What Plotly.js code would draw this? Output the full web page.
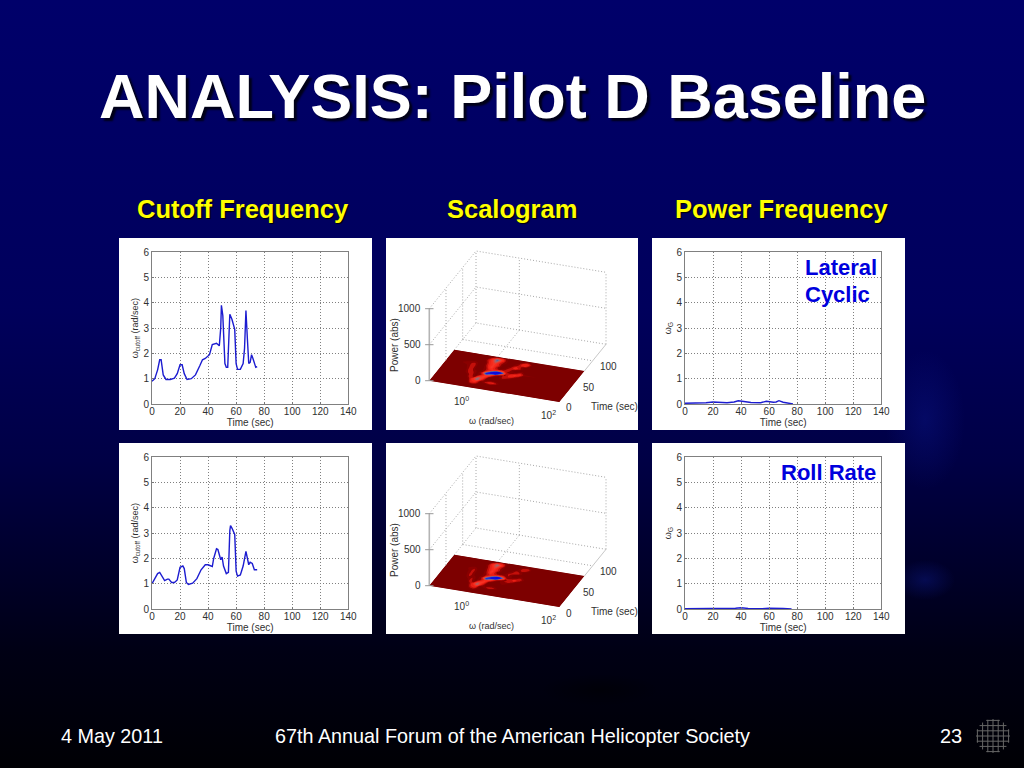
<!DOCTYPE html>
<html><head><meta charset="utf-8">
<script src="https://cdn.plot.ly/plotly-3.0.1.min.js"></script>
<style>
html,body{margin:0;padding:0;width:1024px;height:768px;overflow:hidden;background:#000}
body{background:
 radial-gradient(ellipse 40px 70px at 925px 420px, rgba(20,40,190,.22), rgba(20,40,190,0) 100%),
 radial-gradient(ellipse 30px 20px at 925px 580px, rgba(20,40,190,.28), rgba(20,40,190,0) 100%),
 radial-gradient(ellipse 60px 16px at 600px 690px, rgba(0,0,0,.5), rgba(0,0,0,0) 100%),
 linear-gradient(180deg,#00006a 0%,#00005c 40%,#000045 60%,#000028 75%,#000014 85%,#000004 100%);}
#c{width:1024px;height:768px}
</style></head><body><div id="c"></div>
<script>
var timeA=[0,2,4,5.5,6.5,8,10,13,16,18,20,21.5,23,25,28,31,34,36,38,41,43,46,48,49,49.5,50.5,52,53,54,55.5,57,59,60,61,63,65,66,67,68,69,70,71,72,74,75];
var cutoffLateral=[.9,1.0,1.35,1.75,1.75,1.15,.97,.97,1.02,1.2,1.55,1.55,1.2,.97,1.0,1.15,1.5,1.75,1.8,1.95,2.35,2.4,2.3,3.0,3.9,3.5,1.6,1.45,1.45,3.55,3.35,2.95,1.6,1.37,1.37,1.6,2.2,3.7,2.6,1.6,1.65,1.95,1.8,1.45,1.48];
var timeB=[0,2,4,5.5,7,9,11,12,14,16,18,20,22,23,24.5,26,29,32,35,38,40,43,44,46,47,49,50,51,53,54.5,55.5,56,57,59,60,61,63,65,67,69,70,71.5,73,75];
var cutoffRoll=[1.0,1.2,1.4,1.45,1.3,1.12,1.18,1.18,1.05,1.05,1.15,1.65,1.7,1.6,1.05,.97,1.02,1.2,1.55,1.75,1.75,1.68,2.0,2.38,2.35,1.95,2.05,1.7,1.4,1.45,3.1,3.3,3.2,2.95,1.5,1.3,1.35,1.7,2.28,1.75,1.85,1.8,1.55,1.55];
var timeC=[0,10,15,20,30,35,38,42,47,54,58,63,65,67,70,75,77];
var powerLateral=[.03,.03,.05,.08,.05,.08,.13,.1,.06,.05,.11,.07,.08,.13,.07,.02,0];
var timeD=[0,30,36,40,45,55,60,70,76];
var powerRoll=[.01,.01,.03,.05,.02,.01,.03,.02,0];
var xTicks=[0,20,40,60,80,100,120,140];
var yTicks=[0,1,2,3,4,5,6];
var logOmegaGrid=[-1,-.5,-.35,-.25,-.15,-.05,.05,.15,.25,.35,.45,.55,.65,.75,.85,2];
var timeGrid=[0,7,12,16,20,24,28,32,35,38,41,44,48,52,56,60,64,68,72,75];
var scaloLateral=[
[0,0,0,0,0,0,0,0,0,0,0,0,0,0,0,0],
[0,0,0,0,3,5,3,0,0,0,0,0,0,0,0,0],
[0,0,0,0,14,16,6,4,6,4,0,0,0,0,0,0],
[0,0,0,4,18,22,6,10,16,16,8,0,0,0,0,0],
[0,0,0,8,20,40,16,5,8,8,4,0,0,0,0,0],
[0,0,0,14,8,34,22,4,0,0,0,0,0,0,0,0],
[0,0,5,14,4,16,26,10,3,4,8,4,0,0,0,0],
[0,0,10,12,4,10,24,22,8,5,12,10,6,0,0,0],
[0,0,12,10,4,14,62,40,16,6,12,14,10,3,0,0],
[0,0,14,8,4,10,44,74,72,20,8,16,16,8,0,0],
[0,2,14,5,3,8,20,50,80,60,14,14,20,16,5,0],
[0,4,14,4,3,8,16,20,30,26,10,8,12,18,8,0],
[0,6,14,4,3,10,22,14,8,10,12,6,6,10,4,0],
[0,8,12,3,3,14,26,12,4,6,14,8,4,5,0,0],
[0,6,8,3,4,16,24,16,5,4,10,18,12,4,0,0],
[0,2,4,0,6,18,26,14,6,3,6,14,10,4,0,0],
[0,0,0,0,10,20,36,16,8,3,5,8,16,14,4,0],
[0,0,0,0,8,22,44,24,8,3,4,6,16,18,6,0],
[0,0,0,0,3,10,18,16,6,0,0,3,6,8,0,0],
[0,0,0,0,0,0,0,0,0,0,0,0,0,0,0,0]];
var scaloRoll=[
[0,0,0,0,0,0,0,0,0,0,0,0,0,0,0,0],
[0,0,0,0,3,6,3,0,0,0,0,0,0,0,0,0],
[0,0,0,0,12,14,5,3,5,3,0,0,0,0,0,0],
[0,0,0,4,16,20,5,8,14,12,5,0,0,0,0,0],
[0,0,0,6,18,36,14,4,6,6,3,0,0,0,0,0],
[0,0,0,12,8,30,20,4,0,0,0,0,0,0,0,0],
[0,0,4,12,4,14,24,8,3,3,6,3,0,0,0,0],
[0,0,8,10,4,10,22,18,8,4,10,8,4,0,0,0],
[0,0,10,8,4,12,58,36,14,5,10,12,8,0,0,0],
[0,0,12,6,4,10,40,70,66,18,7,14,14,5,0,0],
[0,2,12,5,3,8,18,46,76,52,12,12,16,12,3,0],
[0,3,12,4,3,8,14,18,26,22,8,7,10,14,6,0],
[0,4,12,4,3,10,20,12,7,8,10,5,5,8,3,0],
[0,6,10,3,3,12,24,10,4,5,12,6,3,4,0,0],
[0,4,6,3,4,14,22,14,5,4,8,14,10,3,0,0],
[0,2,3,0,5,16,24,12,5,3,5,12,8,3,0,0],
[0,0,0,0,8,18,32,14,6,3,4,6,12,10,3,0],
[0,0,0,0,6,20,38,20,6,3,3,5,12,14,4,0],
[0,0,0,0,3,8,16,14,5,0,0,3,5,6,0,0],
[0,0,0,0,0,0,0,0,0,0,0,0,0,0,0,0]];
var scaloColors=[[0,'#7d0000'],[.08,'#900000'],[.12,'#e01810'],[.25,'#ff3020'],[.42,'#9a6a70'],[.55,'#3a50c0'],[.7,'#1010e0'],[1,'#0808e0']];
var powerTicks=[0,500,1000], timeTicks3d=[0,50,100], omegaTickExp=[0,2];
var columns=[{l:152,r:348.3},{l:685,r:881.3}];
var rowsPx=[{t:252.3,b:404},{t:457.3,b:609}];
var panels=[[119,372,238,430],[386,638,238,430],[652,905,238,430],[119,372,443,634],[386,638,443,634],[652,905,443,634]];
var W=1024,H=768;
function fx(p){return p/W} function fy(p){return 1-p/H}
var FONT='"Liberation Sans",Arial,sans-serif', TXT='#303030';
var layout={width:W,height:H,margin:{l:0,r:0,t:0,b:0},paper_bgcolor:'rgba(0,0,0,0)',plot_bgcolor:'rgba(0,0,0,0)',showlegend:false,font:{family:FONT,size:10,color:TXT},shapes:[],annotations:[]};
panels.forEach(function(p){layout.shapes.push({type:'rect',xref:'paper',yref:'paper',x0:fx(p[0]),x1:fx(p[1]),y0:fy(p[3]),y1:fy(p[2]),fillcolor:'#fff',line:{width:0},layer:'below'})});
var traces=[];
function lineChart(idx,col,row,xs,ys,ytitle){
  var sfx=idx==1?'':idx, tf={size:10,color:TXT,family:FONT};
  var com={ticks:'inside',ticklen:2,tickcolor:'#777',showline:true,mirror:true,linecolor:'#808080',linewidth:1,gridcolor:'#808080',griddash:'1px,2px',gridwidth:1,zeroline:false,tickfont:tf};
  layout['xaxis'+sfx]=Object.assign({domain:[fx(col.l),fx(col.r)],range:[0,140],tickvals:xTicks,ticktext:xTicks.map(String),anchor:'y'+sfx,ticklabelstandoff:-2,title:{text:'Time (sec)',font:tf,standoff:0}},com);
  layout['yaxis'+sfx]=Object.assign({domain:[fy(row.b),fy(row.t)],range:[0,6],tickvals:yTicks,ticktext:yTicks.map(String),anchor:'x'+sfx,title:{text:ytitle,font:{size:9,color:TXT,family:FONT},standoff:3}},com);
  traces.push({type:'scatter',mode:'lines',x:xs,y:ys,xaxis:'x'+sfx,yaxis:'y'+sfx,line:{color:'#1c1cd0',width:1.4},hoverinfo:'skip'});
}
var cutT='ω<sub>cutoff</sub> (rad/sec)', gT='ω<sub>G</sub>';
lineChart(1,columns[0],rowsPx[0],timeA,cutoffLateral,cutT);
lineChart(2,columns[1],rowsPx[0],timeC,powerLateral,gT);
lineChart(3,columns[0],rowsPx[1],timeB,cutoffRoll,cutT);
lineChart(4,columns[1],rowsPx[1],timeD,powerRoll,gT);

// Scalograms: the 3-D box is projected to a flat plane, the power field goes through a carpet.
var W_MIN=-1,W_MAX=2,T_MAX=140,Z_MAX=1000;
function projX(w,t){return 429.3+(w-W_MIN)/(W_MAX-W_MIN)*130+t/T_MAX*46.7}
function projY(w,t,z){return 380.7+(w-W_MIN)/(W_MAX-W_MIN)*21.3-t/T_MAX*57.7-z/Z_MAX*72}
function path3(axs,pts,line,extra){
  traces.push(Object.assign({type:'scatter',mode:'lines',xaxis:axs[0],yaxis:axs[1],x:pts.map(function(p){return projX(p[0],p[1])}),y:pts.map(function(p){return projY(p[0],p[1],p[2])}),line:line,hoverinfo:'skip'},extra||{}));
}
function scalogram(idx,rowShift,z,carpetId){
  var sfx=String(idx), axs=['x'+sfx,'y'+sfx];
  layout['xaxis'+sfx]={domain:[fx(386),fx(638)],range:[386,638],visible:false,fixedrange:true,anchor:'y'+sfx};
  layout['yaxis'+sfx]={domain:[fy(430+rowShift),fy(238+rowShift)],range:[430,238],visible:false,fixedrange:true,anchor:'x'+sfx};
  var dot={color:'#a8a8a8',width:1,dash:'1px,2px'};
  var wEnd=logOmegaGrid[logOmegaGrid.length-1], tEnd=timeGrid[timeGrid.length-1], w0=logOmegaGrid[0], t0=timeGrid[0];
  powerTicks.forEach(function(v){
    path3(axs,[[W_MIN,v==0?tEnd:0,v],[W_MIN,T_MAX,v],[W_MAX,T_MAX,v]],dot);
  });
  [50,100,T_MAX].forEach(function(t){path3(axs,[[W_MIN,t,0],[W_MIN,t,Z_MAX]],dot)});
  [0,W_MAX].forEach(function(w){path3(axs,[[w,T_MAX,0],[w,T_MAX,Z_MAX]],dot)});
  path3(axs,[[W_MIN,100,0],[W_MAX,100,0]],dot);
  path3(axs,[[0,tEnd,0],[0,T_MAX,0]],dot);
  path3(axs,[[W_MAX,tEnd,0],[W_MAX,T_MAX,0]],{color:'#c8c8c8',width:1});
  path3(axs,[[W_MIN,0,0],[W_MIN,0,Z_MAX]],{color:'#b4b4b4',width:1.6});
  path3(axs,powerTicks.map(function(v){return [W_MIN,0,v]}),{width:0},{mode:'markers',marker:{symbol:'line-ew',size:6,line:{color:'#999',width:1}}});
  // dark plane below the carpet
  var corners=[[w0,t0],[wEnd,t0],[wEnd,tEnd],[w0,tEnd]];
  layout.shapes.push({type:'path',xref:axs[0],yref:axs[1],layer:'below',fillcolor:'#7d0000',line:{width:0},
    path:'M'+corners.map(function(c){return projX(c[0],c[1]).toFixed(2)+','+projY(c[0],c[1],0).toFixed(2)}).join('L')+'Z'});
  var cx=timeGrid.map(function(t){return logOmegaGrid.map(function(w){return projX(w,t)})});
  var cy=timeGrid.map(function(t){return logOmegaGrid.map(function(w){return projY(w,t,0)})});
  var hid={showgrid:false,showline:false,showticklabels:'none',startline:false,endline:false,minorgridcount:0,smoothing:0,tickmode:'array',tickvals:[],title:{text:''}};
  traces.push({type:'carpet',carpet:carpetId,a:logOmegaGrid,b:timeGrid,x:cx,y:cy,xaxis:axs[0],yaxis:axs[1],aaxis:hid,baxis:hid,hoverinfo:'skip'});
  traces.push({type:'contourcarpet',carpet:carpetId,a:logOmegaGrid,b:timeGrid,z:z,autocontour:false,contours:{coloring:'fill',start:6,end:78,size:4,showlines:false},line:{width:0},colorscale:scaloColors,zmin:0,zmax:80,showscale:false,hoverinfo:'skip'});
  function tick(t,x,y,o){layout.annotations.push({xref:axs[0],yref:axs[1],x:x,y:y,text:t,showarrow:false,xanchor:o.a,yanchor:'middle',xshift:o.dx,yshift:o.dy,font:{family:FONT,size:10,color:TXT}})}
  powerTicks.forEach(function(v){tick(String(v),projX(W_MIN,0),projY(W_MIN,0,v),{a:'right',dx:-6,dy:0})});
  timeTicks3d.forEach(function(t){tick(String(t),projX(W_MAX,t),projY(W_MAX,t,0),{a:'left',dx:5,dy:-6})});
  omegaTickExp.forEach(function(e){tick('10<sup>'+e+'</sup>',projX(e,0),projY(e,0,0),{a:'center',dx:-11,dy:-13})});
}
scalogram(5,0,scaloLateral,'cl');
scalogram(6,205,scaloRoll,'cr');

function note(t,x,y,o){o=o||{};layout.annotations.push({xref:'paper',yref:'paper',x:fx(x),y:fy(y),text:t,showarrow:false,xanchor:o.a||'center',yanchor:o.v||'middle',align:o.al||'center',textangle:o.r||0,
  font:{family:FONT,size:o.s||10,color:o.c||TXT,weight:o.w||400,shadow:o.sh||'none'}})}
[0,205].forEach(function(d){
  note('Power (abs)',394,345+d,{r:-90});
  note('ω (rad/sec)',491,421+d,{s:9});
  note('Time (sec)',614,406+d,{});
});
note('ANALYSIS: Pilot D Baseline',512,96,{s:63,c:'#fff',w:700,sh:'3px 3px 2px #000018'});
note('Cutoff Frequency',243,209,{s:25.5,c:'#ffff00',w:700,sh:'1px 1px 1px #000'});
note('Scalogram',512,209,{s:25.5,c:'#ffff00',w:700,sh:'1px 1px 1px #000'});
note('Power Frequency',781,209,{s:25.5,c:'#ffff00',w:700,sh:'1px 1px 1px #000'});
note('Lateral',803,267,{a:'left',s:22,c:'#0000dd',w:700});
note('Cyclic',803,294,{a:'left',s:22,c:'#0000dd',w:700});
note('Roll Rate',878,472,{a:'right',s:22,c:'#0000dd',w:700});
note('4 May 2011',112,736,{s:19.8,c:'#fff'});
note('67th Annual Forum of the American Helicopter Society',512,736,{s:19.8,c:'#fff'});
note('23',951,736,{s:20,c:'#fff'});
// logo mark: small grid disc
var lc=[993,736],lr=17;
for(var k=-3;k<=3;k++){var o=k*5.2,h=Math.sqrt(lr*lr-o*o);
  layout.shapes.push({type:'line',xref:'paper',yref:'paper',x0:fx(lc[0]-h),x1:fx(lc[0]+h),y0:fy(lc[1]+o),y1:fy(lc[1]+o),line:{color:'#666',width:1},layer:'above'});
  layout.shapes.push({type:'line',xref:'paper',yref:'paper',x0:fx(lc[0]+o),x1:fx(lc[0]+o),y0:fy(lc[1]-h),y1:fy(lc[1]+h),line:{color:'#666',width:1},layer:'above'});}
Plotly.newPlot('c',traces,layout,{displayModeBar:false,staticPlot:true});
</script></body></html>
